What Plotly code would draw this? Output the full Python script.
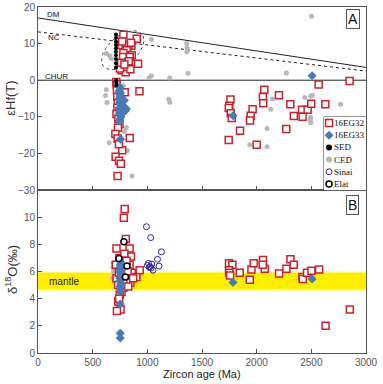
import numpy as np
import plotly.graph_objects as go

# ---------------- data: panel A (eHf(T)) ----------------
eg32_age_A = [781, 903, 763, 802, 854, 815, 826, 851, 811, 781, 796, 857, 778, 839, 915, 763, 802, 815, 750, 845,
              760, 830, 770, 790,
              716, 720, 722, 793, 928, 725, 730, 726, 745, 718, 735, 745, 731, 708, 728, 839, 770, 710, 741, 758, 728, 740,
              2850, 2567, 2070, 2057, 2060, 2204, 1760, 1750, 1745, 1763, 1772, 1963, 1945, 1939, 1848, 1744, 2000,
              2308, 2340, 2415, 2466, 2420, 2499, 2628, 2271]
eg32_ehf = [12.4, 11.3, 9.6, 9.1, 9.4, 8.0, 9.6, 10.2, 8.2, 7.4, 5.9, 6.8, 6.35, 6.35, 4.5, 2.7, 2.2, 3.6, 3.2, 3.0,
            4.8, 5.2, 10.6, 4.3,
            -0.5, -1.2, -2.8, -3.3, -3.0, -4.5, -6.2, -7.5, -8.5, -9.2, -10.5, -12.0, -13.0, -14.7, -15.9, -15.8, -19.1, -20.9, -22.0, -22.8, -26.2, -17.5,
            -0.2, -1.2, -2.6, -4.6, -6.3, -4.1, -5.3, -7.0, -7.6, -9.0, -10.3, -7.9, -9.7, -11.0, -13.8, -16.3, -17.6,
            -6.6, -9.8, -8.1, -8.1, -10.0, -6.4, -6.6, -13.3]

eg33_age_A = [745, 750, 742, 755, 748, 752, 745, 758, 750, 747, 755, 760, 752, 748, 756, 750, 745, 753, 758, 750, 748,
              808, 800, 790, 770, 765, 755, 1784, 2507]
eg33_ehf = [-1.8, -2.5, -3.0, -3.5, -4.0, -4.5, -5.0, -5.4, -5.8, -6.2, -6.6, -7.0, -7.4, -7.8, -8.2, -8.6, -9.0, -9.5, -10.0, -10.5, -11.2,
            -7.8, -8.3, -5.5, -6.8, -9.2, -16.1, -9.7, 1.2]

sed_age_A = [713, 713, 713, 713, 713, 713, 713, 713, 713, 713, 716, 716, 716]
sed_ehf = [12.5, 11.5, 10.5, 9.6, 8.7, 7.8, 6.8, 5.8, 4.6, 3.5, 0.0, -0.7, -1.4]

ced_age_A = [625, 618, 631, 650, 808, 817, 860, 790, 1037, 915, 1016, 1037, 1205, 1196, 1205, 1360, 1362, 1360, 1372,
             625, 655, 671, 2501, 2272, 2145, 2129, 2095, 2095, 1937, 2440, 2495, 2510, 2492, 2492, 2495, 2767, 780]
ced_ehf = [-2.6, -4.2, -6.1, -17.1, -12.9, -19.3, -26.2, -14.0, 11.1, 11.1, 0.7, 1.2, 0.6, -5.2, -6.0, 10.0, 8.9, 7.7, 1.9,
           7.3, 6.7, 5.9, 17.5, 2.0, -5.1, -7.9, -13.2, -18.2, -17.6, -4.7, -4.4, -4.1, -10.2, -10.9, -11.6, -6.6, -1.5]

# reference evolution lines
line_age = [0, 3000]
dm_ehf = [17.0, 3.5]
nc_ehf = [13.2, 2.5]
chur_ehf = [0, 0]

# ---------------- data: panel B (d18O) ----------------
eg32_age_B = [793, 785, 803, 718, 838, 850, 745, 712, 838, 858, 930, 900, 718, 733, 764, 748, 733, 755, 790, 810, 820,
              800, 845, 780, 760, 870, 825, 740, 722, 742,
              1747, 1778, 1747, 1750, 1757, 1845, 1937, 1952, 1973, 2058, 2074, 2055, 2205, 2272, 2309, 2339, 2419,
              2422, 2461, 2501, 2571, 2852, 2630]
eg32_d18o = [10.6, 9.95, 8.4, 7.7, 7.7, 7.1, 7.0, 6.5, 6.5, 5.9, 6.1, 5.6, 5.5, 5.0, 4.5, 4.3, 3.8, 3.2, 7.3, 6.8, 6.0,
             5.3, 5.2, 4.8, 6.2, 5.5, 4.9, 5.9, 3.1, 4.0,
             6.6, 6.5, 6.1, 5.9, 5.7, 5.9, 5.4, 6.15, 6.6, 6.85, 6.2, 6.5, 5.85, 6.2, 6.9, 6.5, 5.6,
             5.45, 5.9, 6.05, 6.15, 3.2, 2.0]

eg33_age_B = [752, 755, 750, 757, 752, 749, 755, 752, 758, 750, 753, 756, 760, 754, 758, 752, 1784, 2507, 752, 752]
eg33_d18o = [4.5, 4.7, 4.9, 5.1, 5.3, 5.5, 5.7, 5.9, 6.1, 6.3, 6.5, 6.7, 5.0, 6.0, 5.4, 3.6, 5.2, 5.45, 1.45, 1.1]

ced_age_B = [686, 686, 680, 690]
ced_d18o = [6.6, 6.3, 5.5, 6.0]

sinai_age = [992, 1031, 1129, 1093, 1107, 1052, 1010, 1025, 1018, 1000, 1035, 1040]
sinai_d18o = [9.3, 8.5, 7.45, 6.9, 6.4, 6.1, 6.6, 6.35, 6.3, 6.45, 6.25, 6.55]

elat_age = [785, 740, 814, 800]
elat_d18o = [8.2, 6.95, 6.4, 5.6]

mantle_low, mantle_high = 4.7, 5.9

x_ticks = [0, 500, 1000, 1500, 2000, 2500, 3000]
yA_ticks = [20, 10, 0, -10, -20, -30]
yB_ticks = [0, 2, 4, 6, 8, 10]

legend_names = ["16EG32", "16EG33", "SED", "CED", "Sinai", "Elat"]

# ---------------- styles ----------------
RED = "#c8232c"
BLUE = "#4a7ab5"
GRAY = "#b8b8b8"
NAVY = "#2a2a9a"
AX = "#555555"

styles = {
    "16EG32": dict(symbol="square", size=7, color="white", line=dict(color=RED, width=1.5)),
    "16EG33": dict(symbol="diamond", size=7, color=BLUE, line=dict(width=0)),
    "SED": dict(symbol="circle", size=4, color="black", line=dict(width=0)),
    "CED": dict(symbol="circle", size=5, color=GRAY, line=dict(width=0)),
    "Sinai": dict(symbol="circle-open", size=6, color=NAVY, line=dict(width=1)),
    "Elat": dict(symbol="circle", size=6, color="white", line=dict(color="black", width=1.5)),
}
legend_marker_size = {"16EG32": 7, "16EG33": 7, "SED": 6, "CED": 6, "Sinai": 6, "Elat": 6}

fig = go.Figure()

# panel A lines
fig.add_trace(go.Scatter(x=line_age, y=dm_ehf, mode="lines", line=dict(color="#222", width=1),
                         hoverinfo="skip", xaxis="x", yaxis="y"))
fig.add_trace(go.Scatter(x=line_age, y=nc_ehf, mode="lines", line=dict(color="#222", width=1, dash="dot"),
                         hoverinfo="skip", xaxis="x", yaxis="y"))
fig.add_trace(go.Scatter(x=line_age, y=chur_ehf, mode="lines", line=dict(color="#222", width=1),
                         hoverinfo="skip", xaxis="x", yaxis="y"))

# dotted ellipse (pixel-space geometry converted to data space)
sx, sy = 0.1093, 3.64  # px per Ma, px per eps unit
cx, cy, a, b, th = 775, 8.2, 25, 14, np.deg2rad(40)
t = np.linspace(0, 2 * np.pi, 120)
ex = cx + (a * np.cos(t) * np.cos(th) - b * np.sin(t) * np.sin(th)) / sx
ey = cy + (a * np.cos(t) * np.sin(th) + b * np.sin(t) * np.cos(th)) / sy
fig.add_trace(go.Scatter(x=ex, y=ey, mode="lines", line=dict(color="#444", width=1, dash="dot"),
                         hoverinfo="skip", xaxis="x", yaxis="y"))

fig.add_trace(go.Scatter(x=ced_age_A, y=ced_ehf, mode="markers", marker=styles["CED"], xaxis="x", yaxis="y"))
fig.add_trace(go.Scatter(x=eg32_age_A, y=eg32_ehf, mode="markers", marker=styles["16EG32"], xaxis="x", yaxis="y"))
fig.add_trace(go.Scatter(x=eg33_age_A, y=eg33_ehf, mode="markers", marker=styles["16EG33"], xaxis="x", yaxis="y"))
fig.add_trace(go.Scatter(x=sed_age_A, y=sed_ehf, mode="markers", marker=styles["SED"], xaxis="x", yaxis="y"))

# panel B
fig.add_trace(go.Scatter(x=ced_age_B, y=ced_d18o, mode="markers", marker=styles["CED"], xaxis="x2", yaxis="y2"))
fig.add_trace(go.Scatter(x=eg32_age_B, y=eg32_d18o, mode="markers", marker=styles["16EG32"], xaxis="x2", yaxis="y2"))
fig.add_trace(go.Scatter(x=eg33_age_B, y=eg33_d18o, mode="markers", marker=styles["16EG33"], xaxis="x2", yaxis="y2"))
fig.add_trace(go.Scatter(x=sinai_age, y=sinai_d18o, mode="markers", marker=styles["Sinai"], xaxis="x2", yaxis="y2"))
fig.add_trace(go.Scatter(x=elat_age, y=elat_d18o, mode="markers", marker=styles["Elat"], xaxis="x2", yaxis="y2"))

# compact legend on its own small axis
n = len(legend_names)
for i, nm in enumerate(legend_names):
    mk = dict(styles[nm])
    mk["size"] = legend_marker_size[nm]
    fig.add_trace(go.Scatter(x=[0.12], y=[n - 0.5 - i], mode="markers", marker=mk,
                             xaxis="x3", yaxis="y3", hoverinfo="skip"))
    fig.add_annotation(x=0.2, y=n - 0.5 - i, xref="x3", yref="y3", text=nm, showarrow=False,
                       xanchor="left", font=dict(family="Liberation Serif", size=9, color="#111"))

split = 0.471
tickfont = dict(family="Liberation Sans, Arial", size=10, color="#555")
axis_common = dict(showline=True, linecolor=AX, linewidth=1, mirror=True, showgrid=False, zeroline=False,
                   ticks="inside", ticklen=4, tickcolor=AX, tickfont=tickfont, automargin=False)
hidden = dict(visible=False, showgrid=False, zeroline=False, fixedrange=True)

lx0, lx1 = (324 - 38) / 328, (366 - 38) / 328
ly0, ly1 = split, (353 - 117) / 346

fig.update_layout(
    width=383, height=384,
    margin=dict(l=38, r=17, t=7, b=31, autoexpand=False),
    paper_bgcolor="white", plot_bgcolor="white",
    font=dict(family="Liberation Sans, Arial", color="#333"),
    showlegend=False,
    xaxis=dict(domain=[0, 1], range=[0, 3000], anchor="y", tickvals=x_ticks, showticklabels=False, **axis_common),
    yaxis=dict(domain=[split, 1], range=[-30, 20], anchor="x", tickvals=yA_ticks, **axis_common),
    xaxis2=dict(domain=[0, 1], range=[0, 3000], anchor="y2", tickvals=x_ticks, **axis_common),
    yaxis2=dict(domain=[0, split], range=[0, 12], anchor="x2", tickvals=yB_ticks, **axis_common),
    xaxis3=dict(domain=[lx0, lx1], range=[0, 1], anchor="y3", **hidden),
    yaxis3=dict(domain=[ly0, ly1], range=[0, n], anchor="x3", **hidden),
)

# legend frame
fig.add_shape(type="rect", xref="paper", yref="paper", x0=lx0, x1=lx1, y0=ly0, y1=ly1,
              fillcolor="white", line=dict(color="#333", width=1), layer="below")

# mantle band
fig.add_shape(type="rect", xref="x2", yref="y2", x0=0, x1=3000, y0=mantle_low - 0.15, y1=mantle_high + 0.12,
              fillcolor="#ffff60", line=dict(width=0), layer="below", opacity=0.6)
fig.add_shape(type="rect", xref="x2", yref="y2", x0=0, x1=3000, y0=mantle_low, y1=mantle_high,
              fillcolor="#ffee00", line=dict(width=0), layer="below")

# axis titles
fig.add_annotation(xref="paper", yref="paper", x=-0.082, y=0.735, text="εHf(T)", textangle=-90,
                   xanchor="center", yanchor="middle", showarrow=False, font=dict(size=13, color="#333"))
fig.add_annotation(xref="paper", yref="paper", x=-0.082, y=0.24, text="δ<sup>18</sup>O(‰)", textangle=-90,
                   xanchor="center", yanchor="middle", showarrow=False, font=dict(size=13, color="#333"))
fig.add_annotation(xref="paper", yref="paper", x=0.5, y=-0.06, text="Zircon age (Ma)", xanchor="center",
                   yanchor="middle", showarrow=False, font=dict(size=11, color="#222"))

# labels
lab = dict(family="Liberation Sans, Arial", size=8, color="#111")
fig.add_annotation(x=140, y=17.9, xref="x", yref="y", text="DM", showarrow=False, font=lab)
fig.add_annotation(x=150, y=11.6, xref="x", yref="y", text="NC", showarrow=False, font=lab)
fig.add_annotation(x=170, y=1.1, xref="x", yref="y", text="CHUR", showarrow=False, font=lab)
fig.add_annotation(x=240, y=5.25, xref="x2", yref="y2", text="mantle", showarrow=False,
                   font=dict(family="Liberation Sans, Arial", size=10, color="#222"))
fig.add_annotation(x=2880, y=16.6, xref="x", yref="y", text="A", showarrow=False, bordercolor="#555",
                   borderwidth=1, borderpad=1, bgcolor="white",
                   font=dict(family="Liberation Sans, Arial", size=14, color="#111"))
fig.add_annotation(x=2880, y=10.9, xref="x2", yref="y2", text="B", showarrow=False, bordercolor="#555",
                   borderwidth=1, borderpad=1, bgcolor="white",
                   font=dict(family="Liberation Sans, Arial", size=14, color="#111"))

fig.write_html("out.html", config={"displayModeBar": False},
               post_script="document.body.style.margin='0px';document.body.style.overflow='hidden';")
